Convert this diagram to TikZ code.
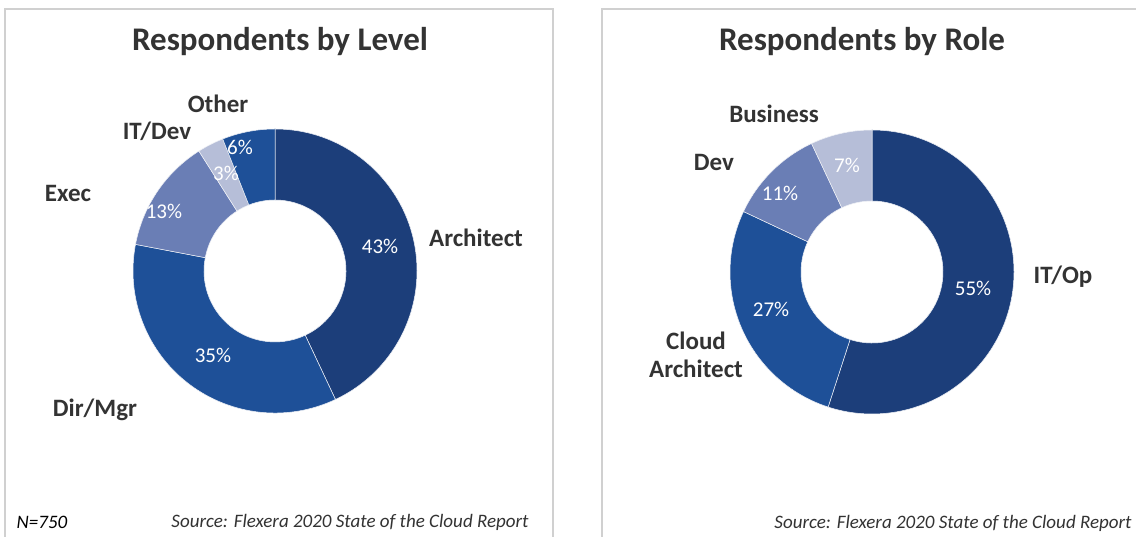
\documentclass[tikz,border=0pt]{standalone}
\usepackage{fontspec}
\setmainfont{Carlito}
\usepackage{tikz}
\usetikzlibrary{positioning}
\definecolor{navy}{RGB}{28,62,122}
\definecolor{midblue}{RGB}{30,80,152}
\definecolor{slate}{RGB}{106,126,181}
\definecolor{pale}{RGB}{182,190,216}
\definecolor{framegray}{RGB}{208,208,208}
\definecolor{inkgray}{RGB}{51,51,51}
\tikzstyle{panel} = [draw=framegray, line width=1.5pt]
\tikzstyle{charttitle} = [font=\fontsize{33}{36}\selectfont\bfseries, text=inkgray]
\tikzstyle{catlabel} = [font=\fontsize{25}{28}\selectfont\bfseries, text=inkgray, align=center]
\tikzstyle{pct} = [font=\fontsize{21}{24}\selectfont, text=white]
\tikzstyle{note} = [font=\fontsize{19}{22}\selectfont\itshape, text=inkgray]
\tikzstyle{wedge} = [draw=white!80!pale, line width=0.5pt]
% one ring slice: centre x, centre y, start angle, end angle, colour
\newcommand{\ringslice}[5]{%
  \fill[wedge, fill=#5] ($(#1,#2)+(#3:142)$) arc (#3:#4:142)
    -- ($(#1,#2)+(#4:71)$) arc (#4:#3:71) -- cycle;}
\usetikzlibrary{calc}

\begin{document}
\begin{tikzpicture}[x=1pt, y=1pt]
\clip (0,0) rectangle (1136,537);
\useasboundingbox (0,0) rectangle (1136,537);
\fill[white] (0,0) rectangle (1136,537);
% panels
\draw[panel] (5,-5) rectangle (553,528);
\draw[panel] (602,-5) rectangle (1150,528);

% Level ring (clockwise from top)
\ringslice{275}{266}{90}{-64.8}{navy}
\ringslice{275}{266}{-64.8}{-190.8}{midblue}
\ringslice{275}{266}{-190.8}{-237.6}{slate}
\ringslice{275}{266}{-237.6}{-248.4}{pale}
\ringslice{275}{266}{-248.4}{-270}{midblue}
\node[charttitle] (lvltitle) at (280,495) {Respondents by Level};
\node[catlabel] (other) at (218,433) {Other};
\node[catlabel] (itdev) at (157,406) {IT/Dev};
\node[catlabel] (exec) at (68,344) {Exec};
\node[catlabel] (arch) at (476,299) {Architect};
\node[catlabel] (dirmgr) at (95,127) {Dir/Mgr};
\node[pct] (pother) at (240,390) {6\%};
\node[pct] (pitdev) at (226,364) {3\%};
\node[pct] (pexec) at (164,326) {13\%};
\node[pct] (parch) at (380,291) {43\%};
\node[pct] (pdir) at (213,182) {35\%};
\node[note, text=black] (nsize) at (42,15) {N=750};
\node[note] (lsrc) at (350,15) {Source: Flexera 2020 State of the Cloud Report};

% Role ring
\ringslice{872}{265}{90}{-108}{navy}
\ringslice{872}{265}{-108}{-205.2}{midblue}
\ringslice{872}{265}{-205.2}{-244.8}{slate}
\ringslice{872}{265}{-244.8}{-270}{pale}
\node[charttitle] (roletitle) at (862,495) {Respondents by Role};
\node[catlabel] (business) at (774,423) {Business};
\node[catlabel] (dev) at (714,375) {Dev};
\node[catlabel] (itop) at (1063,260) {IT/Op};
\node[catlabel] (cloud) at (696,182) {Cloud\\Architect};
\node[pct] (pitop) at (973,249) {55\%};
\node[pct] (pcloud) at (771,228) {27\%};
\node[pct] (pdev) at (780,344) {11\%};
\node[pct] (pbiz) at (847,372) {7\%};
\node[note] (rsrc) at (953,14) {Source: Flexera 2020 State of the Cloud Report};
\end{tikzpicture}
\end{document}
